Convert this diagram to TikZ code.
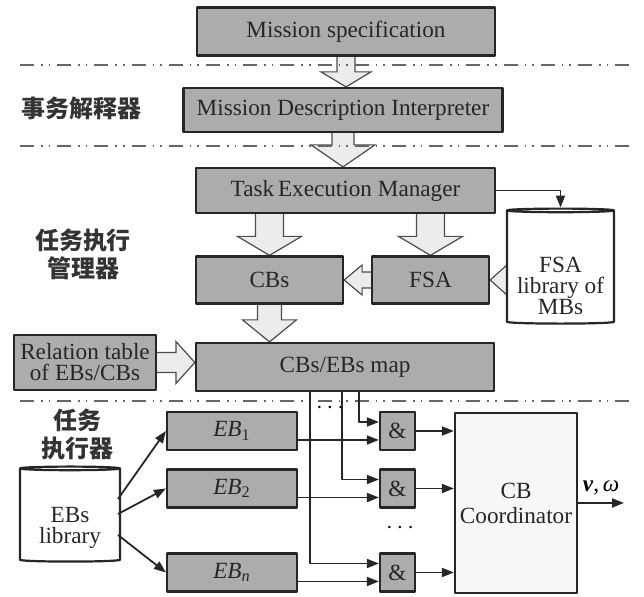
\documentclass[tikz,border=0pt]{standalone}
\usepackage{fontspec}
\setmainfont{Liberation Serif}
\newfontfamily\cjk{Noto Sans CJK SC}
\usetikzlibrary{arrows.meta,calc,shapes.geometric,backgrounds}
\newcommand\fatarrow[5]{%
	\path[hollow] let \p1=#1, \p2=#2, \n1={atan2(\y2-\y1,\x2-\x1)}, \p3=($(\p2)!#5!(\p1)$) in
	($(\p1)+(\n1+90:#3)$) -- ($(\p3)+(\n1+90:#3)$) -- ($(\p3)+(\n1+90:#4)$) -- (\p2)
	-- ($(\p3)+(\n1-90:#4)$) -- ($(\p3)+(\n1-90:#3)$) -- ($(\p1)+(\n1-90:#3)$);}
\begin{document}
\begin{tikzpicture}[x=0.5pt,y=-0.5pt,>={Triangle[length=6pt,width=4.5pt]}, font=\fontsize{11.6}{10.5}\selectfont, line join=round,
	box/.style={draw=black!85,line width=1.1pt,fill=gray!65,text=black!85,inner sep=1pt,align=center},
	ebbox/.style={box,minimum width=65pt,minimum height=19pt},
	gate/.style={box,minimum width=17.5pt,minimum height=19pt},
	db/.style={cylinder,shape border rotate=90,aspect=0.27,draw=black!85,line width=1.1pt,fill=white},
	hollow/.style={draw=black!70,line width=0.6pt,fill=gray!15},
	sep/.style={draw=black!60,line width=0.8pt,dash pattern=on 7pt off 3.5pt on 0.8pt off 3pt on 0.8pt off 3.5pt},
	zh/.style={font=\cjk\bfseries\fontsize{12}{14}\selectfont,text=black!80,align=center},
	link/.style={->,line width=0.9pt,draw=black!85}]
	\useasboundingbox (0,0) rectangle (644,597);
	\foreach \y in {65,146,401} \draw[sep] (20,\y) -- (632,\y);
	\node[zh] (lbint) at (82,108) {事务解释器};
	\node[zh] (lbmgr) at (83,254) {任务执行\\管理器};
	\node[zh] (lbexe) at (77,434) {任务\\执行器};
	\node[box,minimum width=149pt,minimum height=24pt] (spec) at (346,31.5) {Mission specification};
	\node[box,minimum width=159.5pt,minimum height=22pt] (mdi) at (343,110) {Mission Description Interpreter};
	\node[box,minimum width=149.5pt,minimum height=22.5pt] (tem) at (345.5,190.5) {Task\,Execution Manager};
	\node[box,minimum width=73.5pt,minimum height=23.5pt] (cbs) at (269.5,280) {CBs};
	\node[box,minimum width=58.5pt,minimum height=23.5pt] (fsa) at (430.5,280) {FSA};
	\node[db,minimum width=53.5pt,minimum height=57.5pt] (fsalib) at (560.5,268) {};
	\node[align=center,text=black!85] (fsatxt) at (560.5,286) {FSA\\library of\\MBs};
	\node[box,minimum width=71pt,minimum height=27.5pt] (rel) at (85,362.5) {Relation table\\of EBs/CBs};
	\node[box,minimum width=149pt,minimum height=24pt] (map) at (345,367) {CBs/EBs map};
	\node[ebbox] (eb1) at (232,431) {\textit{EB}\textsubscript{1}};
	\node[ebbox] (eb2) at (232,488.5) {\textit{EB}\textsubscript{2}};
	\node[ebbox] (ebn) at (232,572.5) {\textit{EB}\textsubscript{\textit{n}}};
	\node[gate] (g1) at (397.5,431) {\&};
	\node[gate] (g2) at (397.5,488.5) {\&};
	\node[gate] (gn) at (397.5,572.5) {\&};
	\node[box,fill=gray!6,minimum width=61pt,minimum height=90pt] (coord) at (516,503) {CB\\[2pt]Coordinator};
	\node[db,minimum width=50pt,minimum height=47.5pt] (ebslib) at (70,516) {};
	\node[align=center,text=black!85] (ebstxt) at (70,528) {EBs\\library};
	\node (dotsa) at (330,408) {$\cdots$};
	\node (dotsb) at (400,528) {$\cdots$};
	\coordinate (out) at (624,503);
	\begin{scope}[on background layer]
		\fatarrow{(spec.south)}{(spec.south |- mdi.north)}{4.5pt}{12.5pt}{7.5pt}
		\fatarrow{(mdi.south)}{(mdi.south |- tem.north)}{5.5pt}{16pt}{11pt}
		\fatarrow{(cbs.north |- tem.south)}{(cbs.north)}{7pt}{16pt}{9.5pt}
		\fatarrow{(fsa.north |- tem.south)}{(fsa.north)}{7pt}{16pt}{9.5pt}
		\fatarrow{(fsa.west)}{(cbs.east)}{4pt}{7.5pt}{9pt}
		\fatarrow{($(fsalib.center |- fsa.east)+(-53.5,0)$)}{(fsa.east)}{4pt}{8pt}{9pt}
		\fatarrow{(cbs.south)}{(cbs.south |- map.north)}{6pt}{13.5pt}{11pt}
		\fatarrow{(rel.east)}{(map.west |- rel.east)}{5pt}{10.5pt}{9.5pt}
	\end{scope}
	\draw[link] (tem.east) -| (fsalib.top);
	\draw[link] ([shift={(48,-17)}]ebslib.center) -- (eb1.west);
	\draw[link] ([shift={(48,-2)}]ebslib.center) -- (eb2.west);
	\draw[link] ([shift={(48,19)}]ebslib.center) -- (ebn.west);
	\foreach \e/\g in {eb1/g1,eb2/g2,ebn/gn} \draw[link] ([yshift=-4.5pt]\e.east) -- ([yshift=-4.5pt]\g.west);
	\draw[link] ([xshift=7pt]map.south) |- ([yshift=4.5pt]g1.west);
	\draw[link] ([xshift=-1.5pt]map.south) |- ([yshift=4.5pt]g2.west);
	\draw[link] ([xshift=-17.5pt]map.south) |- ([yshift=4.5pt]gn.west);
	\foreach \g in {g1,g2,gn} \draw[link] (\g.east) -- (coord.west |- \g.east);
	\draw[link] (coord.east) -- (out) node[midway,above] {\textbf{\textit{v}},\,\textit{ω}};
\end{tikzpicture}
\end{document}
